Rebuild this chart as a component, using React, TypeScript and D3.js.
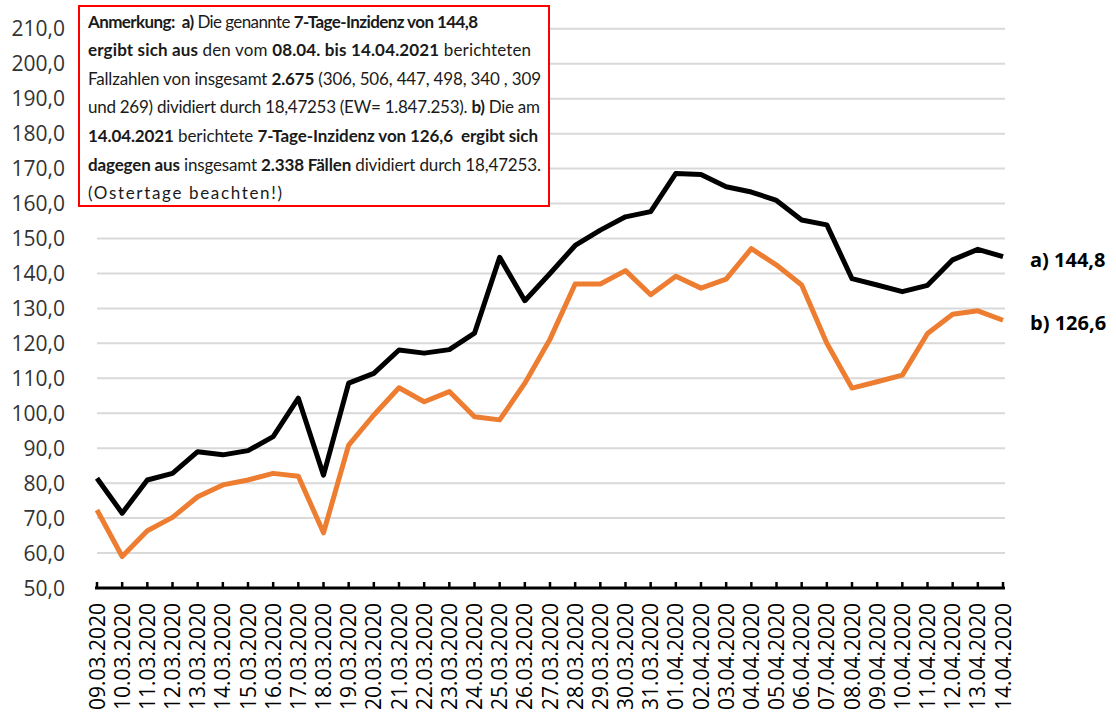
import React from 'react';
import * as d3 from 'd3';

const dates = [
  '09.03.2020', '10.03.2020', '11.03.2020', '12.03.2020', '13.03.2020', '14.03.2020',
  '15.03.2020', '16.03.2020', '17.03.2020', '18.03.2020', '19.03.2020', '20.03.2020',
  '21.03.2020', '22.03.2020', '23.03.2020', '24.03.2020', '25.03.2020', '26.03.2020',
  '27.03.2020', '28.03.2020', '29.03.2020', '30.03.2020', '31.03.2020', '01.04.2020',
  '02.04.2020', '03.04.2020', '04.04.2020', '05.04.2020', '06.04.2020', '07.04.2020',
  '08.04.2020', '09.04.2020', '10.04.2020', '11.04.2020', '12.04.2020', '13.04.2020',
  '14.04.2020',
];

// a) black series
const seriesA = [
  81.4, 71.4, 80.9, 82.8, 89.0, 88.1, 89.3, 93.3, 104.3, 82.3, 108.6, 111.4,
  118.1, 117.2, 118.2, 122.9, 144.6, 132.2, 140.0, 148.0, 152.4, 156.2, 157.7, 168.6,
  168.3, 164.8, 163.3, 160.9, 155.3, 153.9, 138.5, 136.7, 134.8, 136.6, 143.9, 146.9,
  144.8,
];

// b) orange series
const seriesB = [
  72.3, 59.0, 66.4, 70.2, 76.1, 79.5, 80.9, 82.8, 82.0, 65.8, 90.9, 99.5,
  107.3, 103.3, 106.2, 99.0, 98.1, 108.6, 121.2, 137.0, 137.0, 140.8, 133.9, 139.2,
  135.8, 138.4, 147.1, 142.4, 136.7, 120.0, 107.2, 109.0, 110.9, 122.8, 128.3, 129.3,
  126.6,
];

const yTicks = [50, 60, 70, 80, 90, 100, 110, 120, 130, 140, 150, 160, 170, 180, 190, 200, 210];

const endLabels = ['a) 144,8', 'b) 126,6'];

type Part = [string, boolean];
const noteLines: Part[][] = [
  [['Anmerkung:  a)', true], [' Die genannte ', false], ['7-Tage-Inzidenz von 144,8', true]],
  [['ergibt sich aus', true], [' den vom ', false], ['08.04. bis 14.04.2021', true], [' berichteten', false]],
  [['Fallzahlen von insgesamt ', false], ['2.675', true], [' (306, 506, 447, 498, 340 , 309', false]],
  [['und 269) dividiert durch 18,47253 (EW= 1.847.253). ', false], ['b)', true], [' Die am', false]],
  [['14.04.2021', true], [' berichtete ', false], ['7-Tage-Inzidenz von 126,6  ergibt sich', true]],
  [['dagegen aus', true], [' insgesamt ', false], ['2.338 Fällen', true], [' dividiert durch 18,47253.', false]],
  [['(Ostertage beachten!)', false]],
];
// how wide each note line runs in the original box
const noteWidths = [390, 443, 453, 452, 450, 453, 194];

const FONT = "'Open Sans', sans-serif";
const NOTE_FONT = "Lato, sans-serif";
const fmt = (v: number) => v.toFixed(1).replace('.', ',');

const App: React.FC = () => {
  const width = 1116;
  const height = 715;
  const x = d3.scalePoint<string>().domain(dates).range([97, 1003]);
  const y = d3.scaleLinear().domain([50, 210]).range([588, 28.8]);

  const line = d3.line<number>()
    .x((_, i) => x(dates[i]) as number)
    .y(d => y(d));

  const lastX = x(dates[dates.length - 1]) as number;

  return (
    <svg width={width} height={height} style={{ position: 'absolute', left: 0, top: 0, background: '#fff' }}>
      {/* gridlines */}
      {yTicks.filter(t => t > 50).map(t => (
        <line key={t} x1={97} x2={1005} y1={y(t)} y2={y(t)} stroke="#d9d9d9" strokeWidth={2} />
      ))}
      {/* y labels */}
      {yTicks.map(t => (
        <text key={t} x={65} y={y(t)} dy="0.36em" textAnchor="end" fontFamily={FONT} fontSize={21} fill="#333">
          {fmt(t)}
        </text>
      ))}
      {/* x axis */}
      <line x1={95} x2={1005} y1={y(50)} y2={y(50)} stroke="#000" strokeWidth={3} />
      {dates.map(d => (
        <line key={d} x1={x(d)} x2={x(d)} y1={y(50)} y2={y(50) - 6} stroke="#000" strokeWidth={2.5} />
      ))}
      {dates.map(d => (
        <text key={d} transform={`translate(${x(d)},${603}) rotate(-90)`} dy="0.36em" textAnchor="end"
          fontFamily={FONT} fontSize={21} fill="#000">
          {d}
        </text>
      ))}
      {/* series */}
      <path d={line(seriesB) || ''} fill="none" stroke="#ed7d31" strokeWidth={5} strokeLinejoin="round" />
      <path d={line(seriesA) || ''} fill="none" stroke="#000" strokeWidth={5} strokeLinejoin="round" />
      <text x={lastX + 27} y={y(seriesA[seriesA.length - 1]) + 3} dy="0.36em" fontFamily={FONT} fontSize={20} fontWeight="bold">
        {endLabels[0]}
      </text>
      <text x={lastX + 27} y={y(seriesB[seriesB.length - 1]) + 3} dy="0.36em" fontFamily={FONT} fontSize={20} fontWeight="bold">
        {endLabels[1]}
      </text>
      {/* annotation box */}
      <rect x={79} y={6} width={470} height={200} fill="#fff" stroke="#ff0000" strokeWidth={2} />
      {noteLines.map((parts, i) => (
        <text key={i} x={88} y={27.5 + i * 28.6} fontFamily={NOTE_FONT} fontSize={17} fill="#1a1a1a"
          textLength={noteWidths[i]} lengthAdjust="spacing">
          {parts.map(([s, b], j) => (
            <tspan key={j} fontWeight={b ? 'bold' : 'normal'} style={{ whiteSpace: 'pre' }}>{s}</tspan>
          ))}
        </text>
      ))}
    </svg>
  );
};

export default App;
